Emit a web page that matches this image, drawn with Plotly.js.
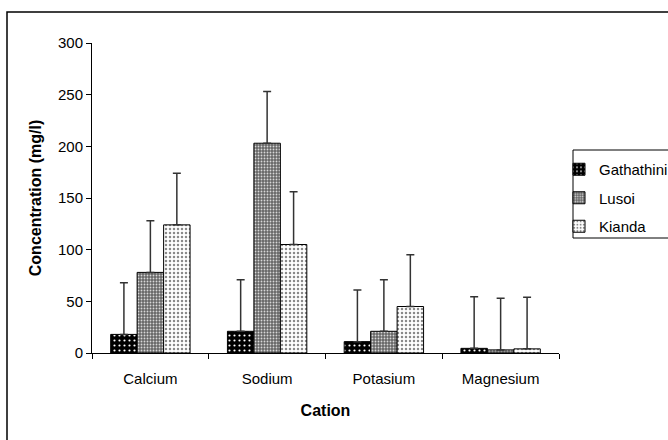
<!DOCTYPE html>
<html>
<head>
<meta charset="utf-8">
<script src="https://cdn.plot.ly/plotly-3.0.1.min.js"></script>
<style>
  html, body { margin: 0; padding: 0; background: #fff; }
  #chart { width: 668px; height: 440px; }
</style>
</head>
<body>
<div id="chart"></div>
<script>
const categories = ["Calcium", "Sodium", "Potasium", "Magnesium"];
const seriesNames = ["Gathathini", "Lusoi", "Kianda"];
const gathathini = [18, 21, 11, 4.5];
const lusoi = [78, 203, 21, 3];
const kianda = [124, 105, 45, 4];
const gathathiniErr = [50, 50, 50, 50];
const lusoiErr = [50, 50, 50, 50];
const kiandaErr = [50, 51, 50, 50];
const yTicks = [0, 50, 100, 150, 200, 250, 300];

const font = "Liberation Sans, Arial, sans-serif";

function errY(arr) {
  return {
    type: "data", symmetric: false, array: arr,
    arrayminus: arr.map(() => 0),
    color: "#333", thickness: 1.5, width: 4
  };
}

const traces = [
  {
    type: "bar", name: seriesNames[0], x: categories, y: gathathini,
    legendgroup: "g1",
    error_y: errY(gathathiniErr),
    marker: {
      color: "#000",
      line: { color: "#000", width: 1 },
      pattern: { shape: ".", bgcolor: "#000", fgcolor: "#fff", size: 5, solidity: 0.15, fillmode: "replace" }
    }
  },
  {
    type: "bar", name: seriesNames[1], x: categories, y: lusoi,
    legendgroup: "g2",
    error_y: errY(lusoiErr),
    marker: {
      color: "#888",
      line: { color: "#000", width: 1 },
      pattern: { shape: ".", bgcolor: "#666", fgcolor: "#d8d8d8", size: 3, solidity: 0.3, fillmode: "replace" }
    }
  },
  {
    type: "bar", name: seriesNames[2], x: categories, y: kianda,
    legendgroup: "g3",
    error_y: errY(kiandaErr),
    marker: {
      color: "#ddd",
      line: { color: "#000", width: 1 },
      pattern: { shape: ".", bgcolor: "#fff", fgcolor: "#8a8a8a", size: 4, solidity: 0.3, fillmode: "replace" }
    }
  }
];

const layout = {
  width: 668, height: 440,
  margin: { l: 92, r: 109, t: 43, b: 87 },
  paper_bgcolor: "#fff", plot_bgcolor: "#fff",
  font: { family: font, size: 15, color: "#000" },
  barmode: "group", bargap: 0.32, bargroupgap: 0,
  showlegend: true,
  legend: {
    xref: "container", x: 559 / 668, xanchor: "left",
    y: 0.5, yanchor: "middle",
    borderwidth: 0, bgcolor: "rgba(0,0,0,0)",
    font: { family: font, size: 15, color: "#000" },
    itemwidth: 30, traceorder: "grouped", tracegroupgap: 6
  },
  xaxis: {
    type: "category", showline: true, linecolor: "#000", linewidth: 1,
    ticks: "outside", tickson: "boundaries", ticklen: 5, tickcolor: "#000",
    ticklabelstandoff: 12,
    showgrid: false, zeroline: false,
    title: { text: "<b>Cation</b>", font: { family: font, size: 16 }, standoff: 18 }
  },
  yaxis: {
    range: [0, 300], tickvals: yTicks, showline: true, linecolor: "#000", linewidth: 1,
    ticks: "outside", ticklen: 5, tickcolor: "#000",
    showgrid: false, zeroline: false,
    title: { text: "<b>Concentration (mg/l)</b>", font: { family: font, size: 16 }, standoff: 12 }
  },
  shapes: [
    {
      type: "rect", xref: "paper", yref: "paper", layer: "below",
      x0: (7 - 92) / 467, x1: 2, y0: -1, y1: (353 - 12) / 310,
      line: { color: "#000", width: 1.5 }, fillcolor: "rgba(0,0,0,0)"
    },
    {
      type: "rect", xref: "paper", yref: "paper", layer: "below",
      x0: (573 - 92) / 467, x1: 1.5, y0: (353 - 238) / 310, y1: (353 - 150) / 310,
      line: { color: "#000", width: 1 }, fillcolor: "#fff"
    }
  ]
};

Plotly.newPlot("chart", traces, layout, { displayModeBar: false, staticPlot: true });
</script>
</body>
</html>
